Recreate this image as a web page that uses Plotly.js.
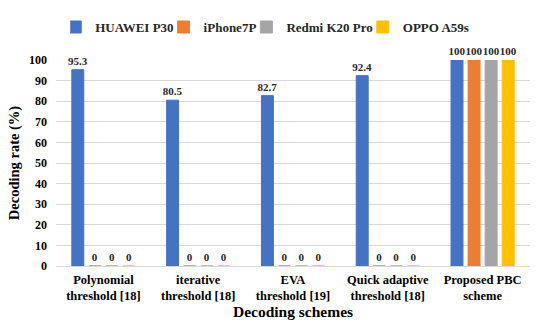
<!DOCTYPE html>
<html>
<head>
<meta charset="utf-8">
<script src="https://cdn.plot.ly/plotly-3.0.1.min.js"></script>
<style>html,body{margin:0;padding:0;background:#fff;}#chart{width:550px;height:326px;}</style>
</head>
<body>
<div id="chart"></div>
<script>
const categories = ["Polynomial<br>threshold [18]", "iterative<br>threshold [18]", "EVA<br>threshold [19]", "Quick adaptive<br>threshold [18]", "Proposed PBC<br>scheme"];
const seriesNames = ["HUAWEI P30", "iPhone7P", "Redmi K20 Pro", "OPPO A59s"];
const huawei = [95.3, 80.5, 82.7, 92.4, 100];
const iphone = [0, 0, 0, 0, 100];
const redmi = [0, 0, 0, 0, 100];
const oppo = [0, 0, 0, 0, 100];
const colors = ["#4472C4", "#ED7D31", "#A5A5A5", "#FFC000"];
const allSeries = [huawei, iphone, redmi, oppo];
const font = "Liberation Serif, Times New Roman, serif";

const traces = allSeries.map((vals, i) => ({
  type: "bar",
  name: seriesNames[i],
  x: categories,
  y: vals,
  marker: {color: colors[i], line: {color: colors[i], width: 1}},
  text: vals.map(v => String(v)),
  textposition: "outside",
  constraintext: "none",
  cliponaxis: false,
  textfont: {family: font, size: 11, color: "#262626", weight: "bold"},
  hoverinfo: "none"
}));

const layout = {
  width: 550, height: 326,
  margin: {l: 56, r: 20, t: 45, b: 60},
  paper_bgcolor: "#fff", plot_bgcolor: "#fff",
  barmode: "group",
  bargap: 0.28,
  bargroupgap: 0.3,
  font: {family: font, color: "#000"},
  showlegend: true,
  legend: {
    orientation: "h", x: 0.03, xanchor: "left", y: 1.16, yanchor: "middle",
    font: {family: font, size: 13, color: "#262626", weight: "bold"},
    itemwidth: 30, indentation: -15, traceorder: "normal"
  },
  xaxis: {
    showgrid: false, zeroline: false, showline: false, ticks: "",
    ticklabelstandoff: 4,
    tickfont: {family: font, size: 12.5, color: "#000", weight: "bold"},
    title: {text: "Decoding schemes", font: {family: font, size: 15.5, color: "#000", weight: "bold"}, standoff: 2}
  },
  yaxis: {
    range: [0, 100], dtick: 10, showgrid: true, gridcolor: "#d9d9d9", gridwidth: 1,
    zeroline: true, zerolinecolor: "#d9d9d9", showline: false, ticks: "",
    ticklabelstandoff: 8,
    tickfont: {family: font, size: 12, color: "#000", weight: "bold"},
    title: {text: "Decoding rate (%)", font: {family: font, size: 14.5, color: "#000", weight: "bold"}, standoff: 5}
  }
};

Plotly.newPlot("chart", traces, layout, {displayModeBar: false, staticPlot: true});
</script>
</body>
</html>
